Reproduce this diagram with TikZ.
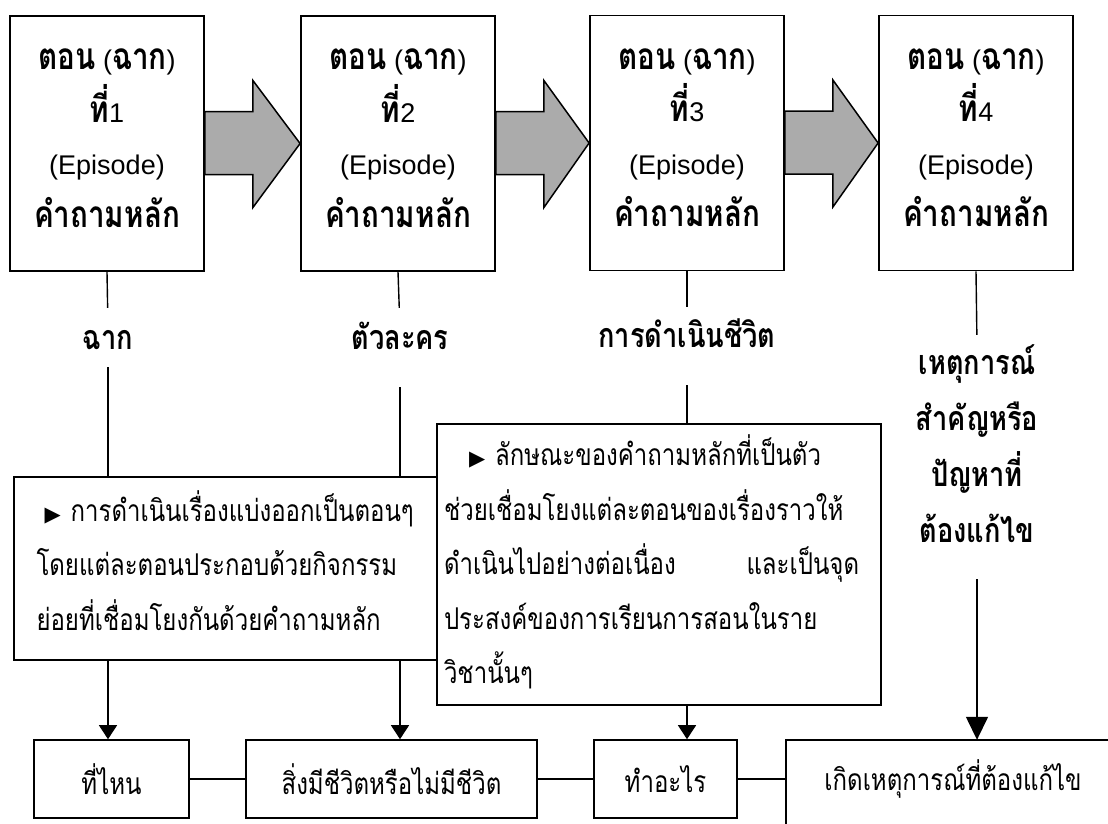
\documentclass[tikz,border=0pt]{standalone}
\usepackage{fontspec}
\setmainfont{Liberation Sans}
\newfontfamily\thaifont[Script=Thai, FakeStretch=0.8]{Loma}
\newfontfamily\symfont{DejaVu Sans}
\usetikzlibrary{calc,arrows.meta}
\newcommand\thb[1]{{\thaifont\bfseries\fontsize{37}{52.5}\selectfont #1}}
\newcommand\tri{{\symfont\fontsize{21}{21}\selectfont ▶}}
\tikzset{
  topbox/.style={draw, line width=1.8pt, minimum width=194pt, minimum height=255pt,
    inner sep=0pt, align=center, font=\fontsize{27}{52.5}\selectfont},
  fatarrow/.style={draw, line width=1.5pt, fill=black!33, line join=miter},
  lab/.style={inner sep=0pt, align=center, text height=20pt, text depth=8pt,
    font=\thaifont\bfseries\fontsize{34}{56}\selectfont},
  conn/.style={line width=1.4pt},
  lowbox/.style={draw, line width=1.6pt, inner sep=0pt},
  ltext/.style={font=\thaifont\fontsize{30}{54.5}\selectfont},
  smallhead/.style={-{Triangle[width=18pt,length=14pt]}},
  bighead/.style={-{Triangle[width=22pt,length=23pt]}},
}
\begin{document}
\begin{tikzpicture}[x=1pt,y=-1pt]
\useasboundingbox (0,0) rectangle (1108,823);
\clip (0,0) rectangle (1108,823);
\fill[white] (0,0) rectangle (1108,823);
% top boxes
\node[topbox] (b1) at (107,143.5) {\thb{ตอน} (\thb{ฉาก})\\ \thb{ที่}1\\ (Episode)\\ \thb{คำถามหลัก}\\[-42pt]\mbox{}};
\node[topbox] (b2) at (398,143.5) {\thb{ตอน} (\thb{ฉาก})\\ \thb{ที่}2\\ (Episode)\\ \thb{คำถามหลัก}\\[-42pt]\mbox{}};
\node[topbox] (b3) at (687,143) {\thb{ตอน} (\thb{ฉาก})\\ \thb{ที่}3\\ (Episode)\\ \thb{คำถามหลัก}\\[-42pt]\mbox{}};
\node[topbox] (b4) at (976,143) {\thb{ตอน} (\thb{ฉาก})\\ \thb{ที่}4\\ (Episode)\\ \thb{คำถามหลัก}\\[-42pt]\mbox{}};
% fat arrows
\foreach \a/\b in {b1/b2,b2/b3,b3/b4}{
  \draw[fatarrow] ($(\a.east)+(0,-32)$) -- ++(48,0) -- ++(0,-31) -- (\b.west)
    -- ($(\a.east)+(48,64)$) -- ++(0,-33) -- ($(\a.east)+(0,31)$) -- cycle;
}
% labels
\node[lab] (l1) at (108,343) {ฉาก};
\node[lab] (l2) at (400,343) {ตัวละคร};
\node[lab] (l3) at (687,341) {การดำเนินชีวิต};
\node[lab, text height=, text depth=] (l4) at (977,444) {เหตุการณ์\\สำคัญหรือ\\ปัญหาที่\\ต้องแก้ไข};
% lower boxes
\node[lowbox, minimum width=423pt, minimum height=183pt, text width=400pt, align=left, ltext] (lowL) at (225.5,568.5)
  {\hspace*{19pt}\tri\ การดำเนินเรื่องแบ่งออกเป็นตอนๆ\\
   \hspace*{11pt}โดยแต่ละตอนประกอบด้วยกิจกรรม\\
   \hspace*{11pt}ย่อยที่เชื่อมโยงกันด้วยคำถามหลัก\\[-38pt]\mbox{}};
\node[lowbox, minimum width=444pt, minimum height=281pt, text width=430pt, align=left, ltext] (mid) at (659,564.5)
  {\hspace*{25pt}\tri\ ลักษณะของคำถามหลักที่เป็นตัว\\
   ช่วยเชื่อมโยงแต่ละตอนของเรื่องราวให้\\
   \makebox[415pt][l]{ดำเนินไปอย่างต่อเนื่อง\hfill และเป็นจุด}\\
   ประสงค์ของการเรียนการสอนในราย\\
   วิชานั้นๆ\\[-44pt]\mbox{}};
% bottom boxes
\node[lowbox, minimum width=155pt, minimum height=78pt, ltext] (bb1) at (111.5,779) {ที่ไหน};
\node[lowbox, minimum width=291pt, minimum height=78pt, ltext] (bb2) at (391.5,779) {สิ่งมีชีวิตหรือไม่มีชีวิต};
\node[lowbox, minimum width=143pt, minimum height=78pt, ltext] (bb3) at (665.5,779) {ทำอะไร};
\node[inner sep=0pt, minimum width=334pt, minimum height=78pt, ltext] (bb4) at (953,779) {เกิดเหตุการณ์ที่ต้องแก้ไข};
\draw[line width=1.6pt] ([yshift=-40pt]bb4.south west) -- (bb4.north west) -- (bb4.north east);
% connectors top boxes -> labels
\draw[conn, shorten >=21pt] (b1.south) -- (l1.north);
\draw[conn, shorten >=21pt] (b2.south) -- (l2.north);
\draw[conn, shorten >=20pt] (b3.south) -- (l3.north);
\draw[conn, shorten >=10pt] (b4.south) -- (l4.north);
% labels -> lower boxes
\draw[conn, shorten <=10pt] (l1.south) -- (l1.south |- lowL.north);
\draw[conn, shorten <=30pt] (l2.south) -- (l2.south |- lowL.north);
\draw[conn, shorten <=30pt] (l3.south) -- (l3.south |- mid.north);
\draw[conn, bighead, shorten <=36pt] (l4.south) -- (l4.south |- bb4.north);
% lower boxes -> bottom boxes
\draw[conn, smallhead] (l1 |- lowL.south) -- (l1 |- bb1.north);
\draw[conn, smallhead] (l2 |- lowL.south) -- (l2 |- bb2.north);
\draw[conn, smallhead] (l3 |- mid.south) -- (l3 |- bb3.north);
% bottom row links
\draw[conn] (bb1) -- (bb2);
\draw[conn] (bb2) -- (bb3);
\draw[conn] (bb3) -- (bb4.west);
\end{tikzpicture}
\end{document}
